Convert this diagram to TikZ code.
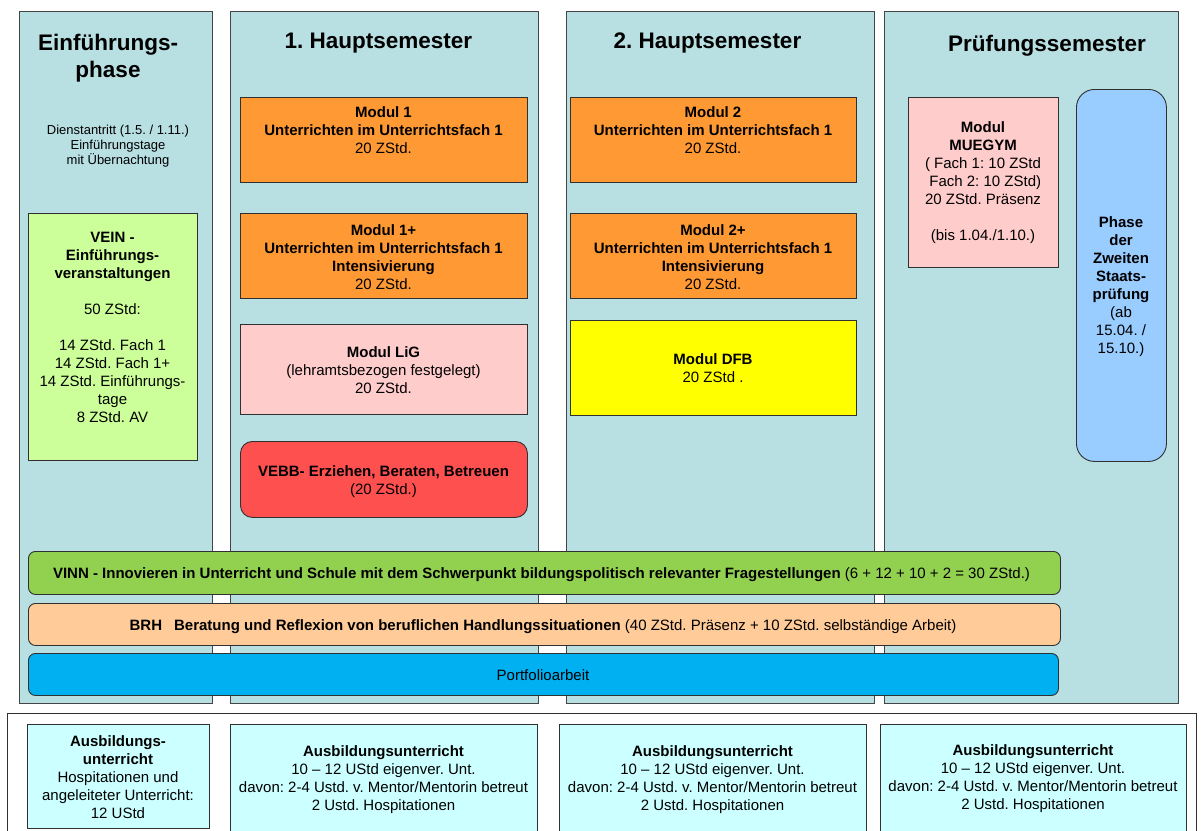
\documentclass[tikz,border=0pt]{standalone}
\usepackage{fontspec}
\setmainfont{Liberation Sans}
\definecolor{colbg}{RGB}{184,223,226}
\definecolor{modorange}{RGB}{255,153,51}
\definecolor{modpink}{RGB}{255,204,204}
\definecolor{modred}{RGB}{255,80,80}
\definecolor{modyellow}{RGB}{255,255,0}
\definecolor{veingreen}{RGB}{204,255,153}
\definecolor{phaseblue}{RGB}{153,204,255}
\definecolor{vinngreen}{RGB}{146,208,80}
\definecolor{brhpeach}{RGB}{255,204,153}
\definecolor{portblue}{RGB}{0,176,240}
\definecolor{ubcyan}{RGB}{204,255,255}
\definecolor{edge}{RGB}{48,48,48}
\newcommand\fsz[2]{\fontsize{#1}{#2}\selectfont}
\frenchspacing
\begin{document}
\begin{tikzpicture}[x=1pt,y=-1pt,
  colbox/.style={draw=edge!90, fill=colbg, line width=0.9pt, rectangle, inner sep=0pt, anchor=north west},
  modbox/.style={draw=edge, line width=0.9pt, rectangle, inner sep=0pt, anchor=north west},
  rbox/.style={modbox, rounded corners=#1},
  txt/.style={align=center, inner sep=0pt, anchor=north, font=\fsz{15}{18}},
  smalltxt/.style={align=center, inner sep=0pt, anchor=north, font=\fsz{13}{15}},
  titletxt/.style={align=center, inner sep=0pt, anchor=north, font=\fsz{22.5}{27}\bfseries},
]
\useasboundingbox (0,0) rectangle (1201,830);
\fill[white] (0,0) rectangle (1201,830);
\begin{scope}
\clip (0,0) rectangle (1201,830);

% columns
\node[colbox, minimum width=193pt, minimum height=692pt] (c1) at (19,11) {};
\node[colbox, minimum width=308pt, minimum height=692pt] (c2) at (230,11) {};
\node[colbox, minimum width=308pt, minimum height=692pt] (c3) at (566,11) {};
\node[colbox, minimum width=294pt, minimum height=692pt] (c4) at (884,11) {};

% titles
\node[titletxt] (t1) at (108,34) {Einführungs-\\phase};
\node[titletxt] (t2) at (378.5,33) {1. Hauptsemester};
\node[titletxt] (t3) at (707.5,33) {2. Hauptsemester};
\node[titletxt] (t4) at (1047,35) {Prüfungssemester};

% column 1
\node[smalltxt] (dienst) at (118,125) {Dienstantritt (1.5. / 1.11.)\\Einführungstage\\mit Übernachtung};
\node[modbox, fill=veingreen, minimum width=169pt, minimum height=247pt] (vein) at (28,213) {};
\node[txt] (veint) at (112.5,232) {\textbf{VEIN -}\\\textbf{Einführungs-}\\\textbf{veranstaltungen}\\[18pt]50 ZStd:\\[18pt]14 ZStd. Fach 1\\14 ZStd. Fach 1+\\14 ZStd. Einführungs-\\tage\\8 ZStd. AV};

% column 2
\node[modbox, fill=modorange, minimum width=287pt, minimum height=85pt] (m1) at (240,97) {};
\node[txt] (m1t) at (383.5,106) {\textbf{Modul 1}\\\textbf{Unterrichten im Unterrichtsfach 1}\\20 ZStd.};
\node[modbox, fill=modorange, minimum width=287pt, minimum height=85pt] (m1p) at (240,213) {};
\node[txt] (m1pt) at (383.5,224) {\textbf{Modul 1+}\\\textbf{Unterrichten im Unterrichtsfach 1}\\\textbf{Intensivierung}\\20 ZStd.};
\node[modbox, fill=modpink, minimum width=287pt, minimum height=90pt] (lig) at (240,324) {};
\node[txt] (ligt) at (383.5,346) {\textbf{Modul LiG}\\(lehramtsbezogen festgelegt)\\20 ZStd.};
\node[rbox=12pt, fill=modred, minimum width=287pt, minimum height=76pt] (vebb) at (240,441) {};
\node[txt] (vebbt) at (383.5,465) {\textbf{VEBB- Erziehen, Beraten, Betreuen}\\(20 ZStd.)};

% column 3
\node[modbox, fill=modorange, minimum width=286pt, minimum height=85pt] (m2) at (570,97) {};
\node[txt] (m2t) at (713,106) {\textbf{Modul 2}\\\textbf{Unterrichten im Unterrichtsfach 1}\\20 ZStd.};
\node[modbox, fill=modorange, minimum width=286pt, minimum height=85pt] (m2p) at (570,213) {};
\node[txt] (m2pt) at (713,224) {\textbf{Modul 2+}\\\textbf{Unterrichten im Unterrichtsfach 1}\\\textbf{Intensivierung}\\20 ZStd.};
\node[modbox, fill=modyellow, minimum width=286pt, minimum height=95pt] (dfb) at (570,320) {};
\node[txt] (dfbt) at (713,353) {\textbf{Modul DFB}\\20 ZStd .};

% column 4
\node[modbox, fill=modpink, minimum width=150pt, minimum height=170pt] (mueg) at (908,97) {};
\node[txt] (muegt) at (983,121) {\textbf{Modul}\\\textbf{MUEGYM}\\( Fach 1: 10 ZStd\\\hspace{0.3em}Fach 2: 10 ZStd)\\20 ZStd. Präsenz\\[18pt](bis 1.04./1.10.)};
\node[rbox=18pt, fill=phaseblue, minimum width=90pt, minimum height=372pt] (phase) at (1076,89) {};
\node[txt] (phaset) at (1121,216) {\textbf{Phase}\\\textbf{der}\\\textbf{Zweiten}\\\textbf{Staats-}\\\textbf{prüfung}\\(ab\\15.04. /\\15.10.)};

% bars
\node[rbox=7pt, fill=vinngreen, minimum width=1032pt, minimum height=43pt] (vinn) at (28,551) {};
\node[txt] (vinnt) at (541.5,567) {\textbf{VINN - Innovieren in Unterricht und Schule mit dem Schwerpunkt bildungspolitisch relevanter Fragestellungen} (6 + 12 + 10 + 2 = 30 ZStd.)};
\node[rbox=7pt, fill=brhpeach, minimum width=1032pt, minimum height=42pt] (brh) at (28,603) {};
\node[txt] (brht) at (543,619) {\textbf{BRH\hspace{0.8em}Beratung und Reflexion von beruflichen Handlungssituationen} (40 ZStd. Präsenz + 10 ZStd. selbständige Arbeit)};
\node[rbox=7pt, fill=portblue, minimum width=1030pt, minimum height=42pt] (port) at (28,653) {};
\node[txt] (portt) at (543,669) {Portfolioarbeit};

% bottom frame
\node[modbox, fill=white, minimum width=1189pt, minimum height=130pt] (bframe) at (7,713) {};
\node[modbox, fill=ubcyan, minimum width=182pt, minimum height=104pt] (b1) at (27,724) {};
\node[txt] (b1t) at (118,735) {\textbf{Ausbildungs-}\\\textbf{unterricht}\\Hospitationen und\\angeleiteter Unterricht:\\12 UStd};
\node[modbox, fill=ubcyan, minimum width=307pt, minimum height=115pt] (b2) at (230,724) {};
\node[txt] (b2t) at (383.5,745) {\textbf{Ausbildungsunterricht}\\10 – 12 UStd eigenver. Unt.\\davon: 2-4 Ustd. v. Mentor/Mentorin betreut\\2 Ustd. Hospitationen};
\node[modbox, fill=ubcyan, minimum width=307pt, minimum height=115pt] (b3) at (559,724) {};
\node[txt] (b3t) at (712.5,745) {\textbf{Ausbildungsunterricht}\\10 – 12 UStd eigenver. Unt.\\davon: 2-4 Ustd. v. Mentor/Mentorin betreut\\2 Ustd. Hospitationen};
\node[modbox, fill=ubcyan, minimum width=306pt, minimum height=115pt] (b4) at (880,724) {};
\node[txt] (b4t) at (1033,744) {\textbf{Ausbildungsunterricht}\\10 – 12 UStd eigenver. Unt.\\davon: 2-4 Ustd. v. Mentor/Mentorin betreut\\2 Ustd. Hospitationen};
\end{scope}
\end{tikzpicture}
\end{document}
